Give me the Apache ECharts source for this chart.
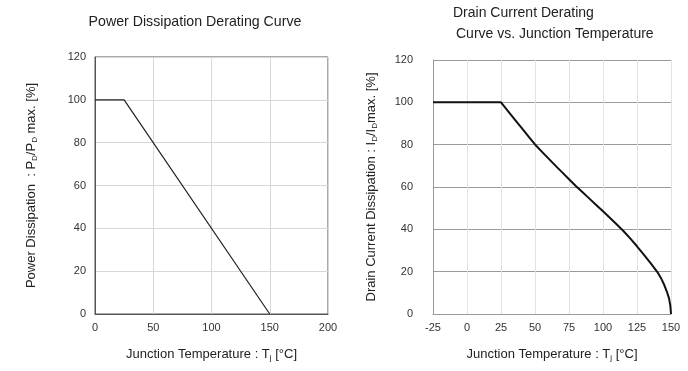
<!DOCTYPE html>
<html><head><meta charset="utf-8">
<script src="https://cdn.jsdelivr.net/npm/echarts@6/dist/echarts.min.js"></script>
<style>html,body{margin:0;padding:0;background:#fff}#c{width:688px;height:371px}</style>
</head><body><div id="c"></div>
<script>
// Left chart: power dissipation derating
const pdTemp = [0, 25, 150];
const pdPct = [100, 100, 0];
const pdXTicks = [0, 50, 100, 150, 200];
const pdYTicks = [0, 20, 40, 60, 80, 100, 120];

// Right chart: drain current derating
const idTemp = [-25, 25, 30, 35, 40, 45, 50, 55, 60, 65, 70, 75, 80, 85, 90, 95, 100, 105, 110, 115, 120, 125, 130, 135, 140, 143, 145, 147, 148.5, 149.5, 150];
const idPct  = [100, 100, 96, 92, 88, 84, 80.1, 76.7, 73.4, 70.1, 66.9, 63.7, 60.5, 57.5, 54.5, 51.5, 48.5, 45.5, 42.4, 39.2, 35.7, 32, 28.1, 24, 19.8, 16.5, 13.8, 10.5, 7.5, 4, 0];
const idXTicks = [-25, 0, 25, 50, 75, 100, 125, 150];
const idYTicks = [0, 20, 40, 60, 80, 100, 120];

const FONT = '"Liberation Sans", Arial, sans-serif';
const chart = echarts.init(document.getElementById('c'), null, {renderer: 'canvas'});
const nameRich = {
  a: {fontFamily: FONT, fontSize: 13, color: '#222', lineHeight: 16},
  s: {fontFamily: FONT, fontSize: 8, color: '#222', lineHeight: 9, verticalAlign: 'bottom'}
};
const tickLabel = {fontFamily: FONT, fontSize: 11, color: '#333'};

chart.setOption({
  animation: false,
  backgroundColor: '#fff',
  title: [
    {text: 'Power Dissipation Derating Curve', left: 190, top: 10, textAlign: 'center',
     textStyle: {fontFamily: FONT, fontSize: 14.2, fontWeight: 'normal', color: '#222'}},
    {text: 'Drain Current Derating', left: 448, top: 1,
     textStyle: {fontFamily: FONT, fontSize: 14, fontWeight: 'normal', color: '#222'}},
    {text: 'Curve vs. Junction Temperature', left: 451, top: 22,
     textStyle: {fontFamily: FONT, fontSize: 14, fontWeight: 'normal', color: '#222'}}
  ],
  grid: [
    {left: 95, top: 57, width: 233, height: 257, show: true, borderColor: '#555', borderWidth: 1, backgroundColor: 'transparent'},
    {left: 433, top: 60, width: 238, height: 254}
  ],
  xAxis: [
    {gridIndex: 0, type: 'value', min: pdXTicks[0], max: pdXTicks[pdXTicks.length-1], interval: pdXTicks[1]-pdXTicks[0],
     axisLine: {onZero: false, lineStyle: {color: '#555'}}, axisTick: {show: false},
     axisLabel: Object.assign({margin: 8}, tickLabel),
     splitLine: {lineStyle: {color: '#d8d8d8'}},
     name: '{a|Junction Temperature : T}{s|j}{a| [°C]}', nameLocation: 'middle', nameGap: 32,
     nameTextStyle: {rich: nameRich}},
    {gridIndex: 1, type: 'value', min: idXTicks[0], max: idXTicks[idXTicks.length-1], interval: idXTicks[1]-idXTicks[0],
     axisLine: {onZero: false, lineStyle: {color: '#999'}}, axisTick: {show: false},
     axisLabel: Object.assign({margin: 8}, tickLabel),
     splitLine: {lineStyle: {color: '#e2e2e2'}},
     name: '{a|Junction Temperature : T}{s|j}{a| [°C]}', nameLocation: 'middle', nameGap: 32,
     nameTextStyle: {rich: nameRich}}
  ],
  yAxis: [
    {gridIndex: 0, type: 'value', min: pdYTicks[0], max: pdYTicks[pdYTicks.length-1], interval: pdYTicks[1]-pdYTicks[0],
     axisLine: {show: true, onZero: false, lineStyle: {color: '#555'}}, axisTick: {show: false},
     axisLabel: Object.assign({margin: 9}, tickLabel),
     splitLine: {lineStyle: {color: '#d8d8d8'}},
     name: '{a|Power Dissipation  : P}{s|D}{a|/P}{s|D}{a| max. [%]}', nameLocation: 'middle', nameGap: 56,
     nameTextStyle: {rich: nameRich}},
    {gridIndex: 1, type: 'value', min: idYTicks[0], max: idYTicks[idYTicks.length-1], interval: idYTicks[1]-idYTicks[0],
     axisLine: {show: true, onZero: false, lineStyle: {color: '#999'}}, axisTick: {show: false},
     axisLabel: Object.assign({margin: 20}, tickLabel),
     splitLine: {lineStyle: {color: '#9a9a9a'}},
     name: '{a|Drain Current Dissipation : I}{s|D}{a|/I}{s|D}{a|max. [%]}', nameLocation: 'middle', nameGap: 54,
     nameTextStyle: {rich: nameRich}}
  ],
  series: [
    {type: 'line', xAxisIndex: 0, yAxisIndex: 0, data: pdTemp.map((t, i) => [t, pdPct[i]]),
     showSymbol: false, lineStyle: {color: '#222', width: 1.2}},
    {type: 'line', xAxisIndex: 1, yAxisIndex: 1, data: idTemp.map((t, i) => [t, idPct[i]]),
     showSymbol: false, lineStyle: {color: '#111', width: 2, join: 'round'}}
  ]
});
</script></body></html>
